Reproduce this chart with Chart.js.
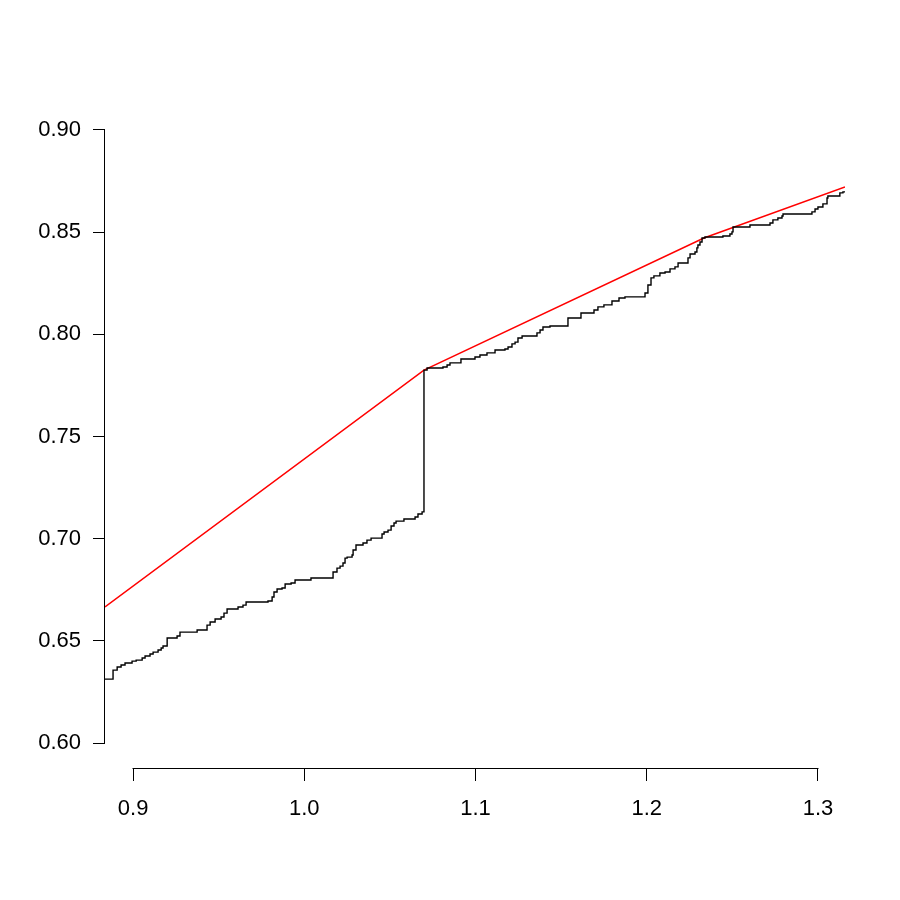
<!DOCTYPE html>
<html>
<head>
<meta charset="utf-8">
<title>step curve vs bound</title>
<script src="https://cdn.jsdelivr.net/npm/chart.js@4.4.1/dist/chart.umd.min.js"></script>
<style>
  html, body { margin: 0; padding: 0; background: #fff; }
  #wrap { width: 900px; height: 900px; }
</style>
</head>
<body>
<div id="wrap"><canvas id="c" width="900" height="900"></canvas></div>
<script>
/* step curve (black) and piecewise-linear bound (red) */
const xTicks = [0.9, 1.0, 1.1, 1.2, 1.3];
const yTicks = [0.60, 0.65, 0.70, 0.75, 0.80, 0.85, 0.90];
const xRange = [0.8836, 1.3158];
const yRange = [0.5878, 0.9122];

const stepX = [
  0.8836, 0.8883, 0.8907, 0.8930, 0.8953, 0.8994, 0.9018, 0.9053, 0.9070, 0.9099,
  0.9117, 0.9146, 0.9164, 0.9175, 0.9199, 0.9257, 0.9274, 0.9374, 0.9432, 0.9450,
  0.9479, 0.9514, 0.9531, 0.9549, 0.9613, 0.9642, 0.9660, 0.9788, 0.9812, 0.9823,
  0.9841, 0.9870, 0.9888, 0.9923, 0.9946, 1.0039, 1.0168, 1.0191, 1.0209, 1.0226,
  1.0238, 1.0250, 1.0279, 1.0285, 1.0302, 1.0343, 1.0366, 1.0390, 1.0454, 1.0466,
  1.0489, 1.0507, 1.0524, 1.0536, 1.0582, 1.0647, 1.0664, 1.0688, 1.0699, 1.0717,
  1.0810, 1.0834, 1.0851, 1.0915, 1.0997, 1.1026, 1.1067, 1.1114, 1.1172, 1.1190,
  1.1213, 1.1231, 1.1248, 1.1272, 1.1359, 1.1377, 1.1394, 1.1435, 1.1540, 1.1616,
  1.1692, 1.1715, 1.1750, 1.1797, 1.1838, 1.1873, 1.1990, 1.2007, 1.2025, 1.2042,
  1.2077, 1.2107, 1.2136, 1.2165, 1.2183, 1.2241, 1.2253, 1.2282, 1.2293, 1.2299,
  1.2311, 1.2323, 1.2340, 1.2445, 1.2486, 1.2498, 1.2504, 1.2603, 1.2720, 1.2737,
  1.2766, 1.2790, 1.2796, 1.2965, 1.2983, 1.3000, 1.3029, 1.3053, 1.3058, 1.3128,
  1.3146, 1.3158
];
const stepY = [
  0.6313, 0.6357, 0.6372, 0.6382, 0.6392, 0.6401, 0.6406, 0.6416, 0.6426, 0.6436,
  0.6445, 0.6455, 0.6465, 0.6475, 0.6514, 0.6524, 0.6543, 0.6553, 0.6577, 0.6592,
  0.6607, 0.6617, 0.6636, 0.6656, 0.6666, 0.6675, 0.6690, 0.6695, 0.6715, 0.6739,
  0.6754, 0.6759, 0.6778, 0.6783, 0.6798, 0.6808, 0.6837, 0.6856, 0.6866, 0.6881,
  0.6905, 0.6910, 0.6920, 0.6945, 0.6969, 0.6979, 0.6993, 0.7003, 0.7023, 0.7033,
  0.7042, 0.7062, 0.7077, 0.7086, 0.7096, 0.7106, 0.7121, 0.7131, 0.7825, 0.7835,
  0.7840, 0.7850, 0.7860, 0.7879, 0.7889, 0.7899, 0.7909, 0.7923, 0.7928, 0.7938,
  0.7953, 0.7962, 0.7982, 0.7992, 0.8007, 0.8021, 0.8036, 0.8041, 0.8080, 0.8104,
  0.8119, 0.8134, 0.8144, 0.8163, 0.8178, 0.8183, 0.8202, 0.8241, 0.8276, 0.8286,
  0.8300, 0.8305, 0.8320, 0.8330, 0.8349, 0.8374, 0.8393, 0.8403, 0.8423, 0.8437,
  0.8452, 0.8471, 0.8476, 0.8481, 0.8491, 0.8501, 0.8525, 0.8535, 0.8545, 0.8560,
  0.8569, 0.8579, 0.8589, 0.8599, 0.8613, 0.8623, 0.8638, 0.8667, 0.8677, 0.8692,
  0.8697, 0.8697
];

const boundX = [0.8836, 1.0699, 1.2334, 1.3158];
const boundY = [0.6666, 0.7825, 0.8471, 0.8721];

const FONT = { family: "'Liberation Sans', Arial, Helvetica, sans-serif", size: 22 };
const pts = (xs, ys) => xs.map((x, i) => ({ x, y: ys[i] }));

// R-style axis lines: only span first..last tick
const axisLines = {
  id: "axisLines",
  afterDraw(chart) {
    const { ctx, chartArea: a, scales: { x, y } } = chart;
    ctx.save();
    ctx.strokeStyle = "#000";
    ctx.lineWidth = 1;
    ctx.beginPath();
    const lx = Math.round(a.left) - 0.5;
    ctx.moveTo(lx, Math.round(y.getPixelForValue(yTicks[0])) + 0.5);
    ctx.lineTo(lx, Math.round(y.getPixelForValue(yTicks[yTicks.length - 1])) - 0.5);
    const by = Math.round(a.bottom) + 0.5;
    ctx.moveTo(Math.round(x.getPixelForValue(xTicks[0])) - 0.5, by);
    ctx.lineTo(Math.round(x.getPixelForValue(xTicks[xTicks.length - 1])) + 0.5, by);
    ctx.stroke();
    ctx.restore();
  },
};

new Chart(document.getElementById("c"), {
  type: "line",
  data: {
    datasets: [
      {
        data: pts(stepX, stepY), stepped: "before",
        borderColor: "#000", borderWidth: 1.4, pointRadius: 0, fill: false,
      },
      {
        data: pts(boundX, boundY),
        borderColor: "#ff0000", borderWidth: 1.5, pointRadius: 0, fill: false, tension: 0,
      },
    ],
  },
  options: {
    responsive: false, animation: false,
    layout: { padding: { top: 105, right: 55, left: 0, bottom: 0 } },
    plugins: { legend: { display: false }, tooltip: { enabled: false } },
    scales: {
      x: {
        type: "linear", min: xRange[0], max: xRange[1], bounds: "data",
        afterBuildTicks: (s) => { s.ticks = xTicks.map((v) => ({ value: v })); },
        afterFit: (s) => { s.height = 132; },
        grid: { drawOnChartArea: false, drawTicks: true, tickLength: 13, color: "#000", lineWidth: 1 },
        border: { display: false },
        ticks: {
          color: "#000", font: FONT, padding: 15, autoSkip: false, maxRotation: 0,
          callback: (v) => Number(v).toFixed(1),
        },
      },
      y: {
        type: "linear", min: yRange[0], max: yRange[1], bounds: "data",
        afterBuildTicks: (s) => { s.ticks = yTicks.map((v) => ({ value: v })); },
        afterFit: (s) => { s.width = 105; },
        grid: { drawOnChartArea: false, drawTicks: true, tickLength: 12, color: "#000", lineWidth: 1 },
        border: { display: false },
        ticks: {
          color: "#000", font: FONT, padding: 12, autoSkip: false,
          callback: (v) => Number(v).toFixed(2),
        },
      },
    },
  },
  plugins: [axisLines],
});
</script>
</body>
</html>
